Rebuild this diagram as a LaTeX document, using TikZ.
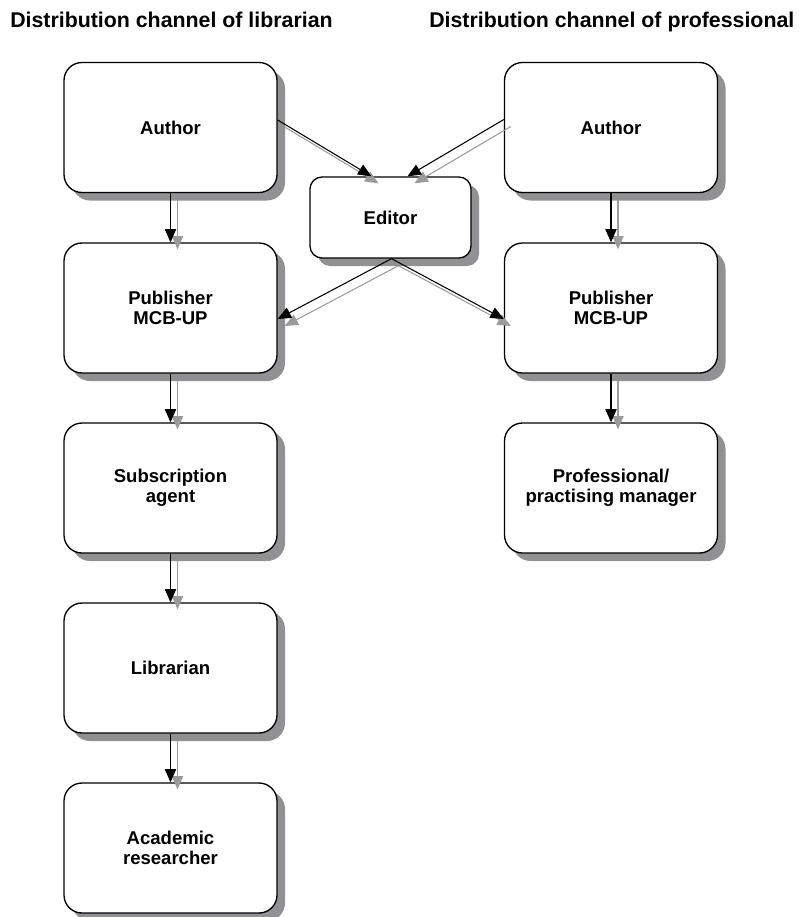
\documentclass[tikz,border=0pt]{standalone}
\usepackage{fontspec}
\setmainfont{Liberation Sans}
\usetikzlibrary{arrows.meta,shadows,calc}
\definecolor{shadowgray}{RGB}{145,145,148}
\definecolor{arrowgray}{RGB}{155,155,158}
\tikzset{
  box/.style={draw=black, line width=1pt, fill=white, rounded corners=13.5pt,
    minimum width=159.75pt, minimum height=97.5pt, align=center,
    font=\fontsize{13.9}{15}\selectfont\bfseries,
    drop shadow={shadow xshift=6pt, shadow yshift=-6pt, fill=shadowgray, opacity=1}},
  edbox/.style={box, rounded corners=9pt, minimum width=120.75pt, minimum height=60.75pt},
  blackarrow/.style={draw=black, line width=0.8pt, -{Triangle[length=10pt,width=8.5pt]}},
  grayarrow/.style={draw=arrowgray, line width=0.8pt, -{Triangle[length=10pt,width=8.5pt]}, arrowgray},
  heading/.style={anchor=base west, inner sep=0pt, font=\fontsize{16}{18}\selectfont\bfseries}
}
\begin{document}
\begin{tikzpicture}[x=0.75pt, y=-0.75pt]
\useasboundingbox (0,0) rectangle (799,917);

\node[heading] (t1) at (10,28) {Distribution channel of librarian};
\node[heading] (t2) at (429,28) {Distribution channel of professional};

% left column
\node[box] (la) at (170.5,127.5) {Author};
\node[box] (lp) at (170.5,308) {Publisher\\MCB-UP};
\node[box] (ls) at (170.5,488) {Subscription\\agent};
\node[box] (ll) at (170.5,668) {Librarian};
\node[box] (lr) at (170.5,848) {Academic\\researcher};

% right column
\node[box] (ra) at (611,127.5) {Author};
\node[box] (rp) at (611,308) {Publisher\\MCB-UP};
\node[box] (rm) at (611,488) {Professional/\\practising manager};

% editor
\node[edbox] (ed) at (390.5,217.5) {Editor};

% coordinates for connector ends
\coordinate (laE) at ($(la.east)+(0,-7.5)$);
\coordinate (raW) at ($(ra.west)+(0,-8)$);
\coordinate (edN1) at ($(ed.north)+(-19,0)$);
\coordinate (edN2) at ($(ed.north)+(17,0)$);
\coordinate (edS) at ($(ed.south)+(1,0)$);
\coordinate (lpE) at ($(lp.east)+(0,11)$);
\coordinate (rpW) at ($(rp.west)+(0,11)$);

% gray shadow arrows (drawn first)
\begin{scope}[transform canvas={shift={(7,7)}}]
  \draw[grayarrow] (la.south) -- (lp.north);
  \draw[grayarrow] (lp.south) -- (ls.north);
  \draw[grayarrow] (ls.south) -- (ll.north);
  \draw[grayarrow] (ll.south) -- (lr.north);
  \draw[grayarrow] (ra.south) -- (rp.north);
  \draw[grayarrow] (rp.south) -- (rm.north);
  \draw[grayarrow] (laE) -- (edN1);
  \draw[grayarrow] (raW) -- (edN2);
  \draw[grayarrow] (edS) -- (lpE);
  \draw[grayarrow] (edS) -- (rpW);
\end{scope}

% black arrows
\draw[blackarrow] (la.south) -- (lp.north);
\draw[blackarrow] (lp.south) -- (ls.north);
\draw[blackarrow] (ls.south) -- (ll.north);
\draw[blackarrow] (ll.south) -- (lr.north);
\draw[blackarrow] (ra.south) -- (rp.north);
\draw[blackarrow] (rp.south) -- (rm.north);
\draw[blackarrow] (laE) -- (edN1);
\draw[blackarrow] (raW) -- (edN2);
\draw[blackarrow] (edS) -- (lpE);
\draw[blackarrow] (edS) -- (rpW);
\end{tikzpicture}
\end{document}
